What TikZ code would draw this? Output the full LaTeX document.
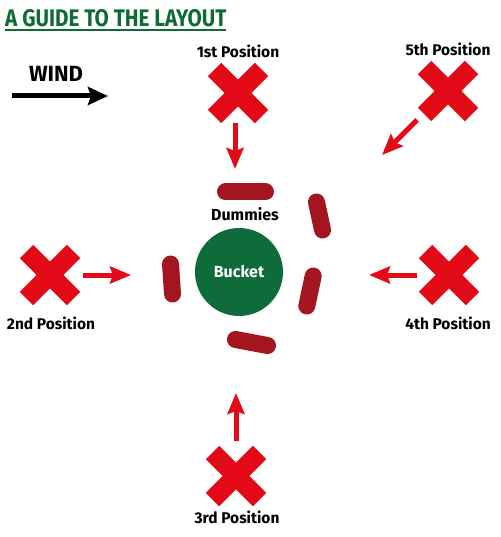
\documentclass[tikz,border=0pt]{standalone}
\usepackage{fontspec}
\setmainfont{Fira Sans}
\usetikzlibrary{arrows.meta,calc}
\definecolor{xred}{HTML}{E30A17}
\definecolor{dred}{HTML}{A3161F}
\definecolor{bgreen}{HTML}{0E6B3A}
\definecolor{tgreen}{HTML}{0F6B35}
\tikzset{
  poslabel/.style={font=\bfseries\fontsize{15.5}{17}\selectfont, text=black, inner sep=0pt},
  xbar/.style={draw=xred, line width=19pt, line cap=butt},
  redarrow/.style={draw=xred, line width=5pt, -{Stealth[length=21pt,width=17pt,inset=3pt]}},
  dummy/.style={draw=dred, line width=17pt, line cap=round},
}
\newcommand{\bigcross}[1]{%
  \draw[xbar] ($(#1)+(-23.5,-23.5)$) -- ($(#1)+(23.5,23.5)$);
  \draw[xbar] ($(#1)+(-23.5,23.5)$) -- ($(#1)+(23.5,-23.5)$);}
\begin{document}
\begin{tikzpicture}[x=1pt,y=-1pt]
\useasboundingbox (0,0) rectangle (500,537);
% title
\node[anchor=west, inner sep=0pt, text=tgreen] (title) at (5,18.5)
  {\scalebox{0.86}[1]{\bfseries\fontsize{24}{26}\selectfont A GUIDE TO THE LAYOUT}};
\draw[tgreen, line width=1.8pt] (title.south west |- 0,30) -- (226,30);
% wind
\node[font=\bfseries\fontsize{22}{24}\selectfont, inner sep=0pt] (wind) at (56,74) {WIND};
\coordinate (w1) at (12,96);
\coordinate (w2) at (108,96);
\draw[line width=5pt, -{Stealth[length=20pt,width=18pt,inset=3pt]}] (w1) -- (w2);
% positions
\coordinate (p1) at (238,93);
\coordinate (p5) at (448,91);
\coordinate (p2) at (50,275);
\coordinate (p4) at (449,275);
\coordinate (p3) at (236,476);
\foreach \p in {p1,p2,p3,p4,p5} {\bigcross{\p}}
\node[poslabel] (l1) at (238,51.5) {1st Position};
\node[poslabel] (l5) at (448,49) {5th Position};
\node[poslabel] (l2) at (51,323.5) {2nd Position};
\node[poslabel] (l4) at (448,323.5) {4th Position};
\node[poslabel] (l3) at (237,517.5) {3rd Position};
% arrow ends
\coordinate (a1s) at (235,123); \coordinate (a1e) at (235,169);
\coordinate (a5s) at (417,120); \coordinate (a5e) at (382,155);
\coordinate (a2s) at (83,275);  \coordinate (a2e) at (131,275);
\coordinate (a4s) at (417,275); \coordinate (a4e) at (369,275);
\coordinate (a3s) at (236,441); \coordinate (a3e) at (236,393);
\draw[redarrow] (a1s) -- (a1e);
\draw[redarrow] (a5s) -- (a5e);
\draw[redarrow] (a2s) -- (a2e);
\draw[redarrow] (a4s) -- (a4e);
\draw[redarrow] (a3s) -- (a3e);
% bucket
\node[circle, fill=bgreen, minimum size=88pt, inner sep=0pt, text=white,
  font=\bfseries\fontsize{16}{18}\selectfont] (bucket) at (239,272) {Bucket};
\node[font=\bfseries\fontsize{16}{18}\selectfont, inner sep=0pt] (dummies) at (245,214) {Dummies};
% dummies
\coordinate (d1a) at (225.5,192); \coordinate (d1b) at (265.5,192);
\coordinate (d2a) at (316.5,202); \coordinate (d2b) at (322.5,230);
\coordinate (d3a) at (170.5,264); \coordinate (d3b) at (172.5,294);
\coordinate (d4a) at (313.2,276); \coordinate (d4b) at (306.8,306);
\coordinate (d5a) at (235.5,339.5); \coordinate (d5b) at (267.5,345.5);
\draw[dummy] (d1a) -- (d1b);
\draw[dummy] (d2a) -- (d2b);
\draw[dummy] (d3a) -- (d3b);
\draw[dummy] (d4a) -- (d4b);
\draw[dummy] (d5a) -- (d5b);
\end{tikzpicture}
\end{document}
